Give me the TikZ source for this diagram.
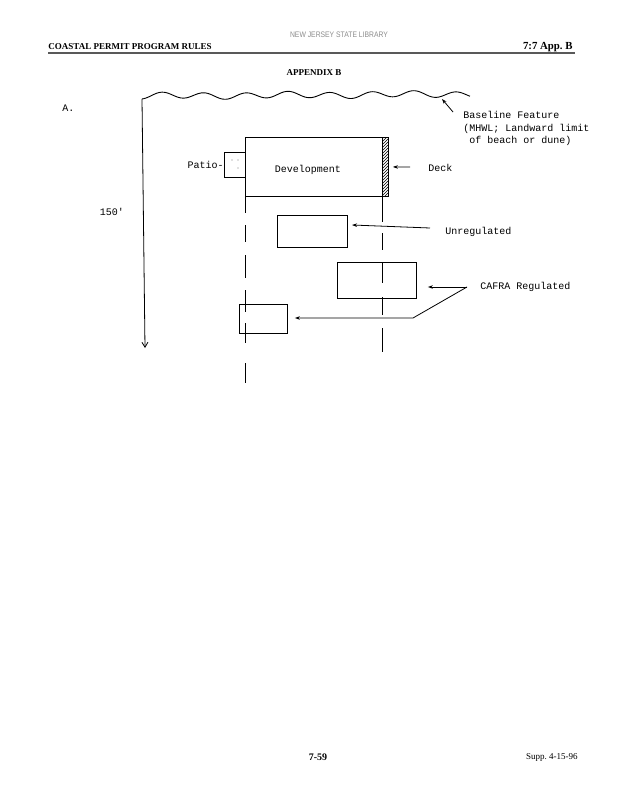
\documentclass[tikz,border=0pt]{standalone}
\usepackage{fontspec}
\setmainfont{Liberation Serif}
\newfontfamily\twfont{Liberation Mono}
\newfontfamily\stampfont{Liberation Sans}
\usetikzlibrary{arrows.meta,patterns}
\begin{document}
\begin{tikzpicture}[x=1pt,y=-1pt,
  line width=0.9pt,
  tw/.style={font=\twfont\fontsize{10}{12.5}\selectfont, inner sep=0pt},
  box/.style={draw, line width=0.9pt, inner sep=0pt, anchor=north west},
  arr/.style={-{Stealth[length=5pt,width=3.5pt]}, line width=0.8pt},
  guide/.style={line width=0.9pt}]
\useasboundingbox[fill=white] (0,0) rectangle (621,800);

% header
\node[anchor=base west, inner sep=0pt, font=\bfseries\fontsize{9}{10}\selectfont] (hl) at (48,49) {COASTAL PERMIT PROGRAM RULES};
\node[anchor=base east, inner sep=0pt, font=\bfseries\fontsize{10.8}{12}\selectfont] (hr) at (573,49) {7:7 App.~B};
\draw[black!65, line width=1.2pt] (48,53) -- (575,53);
\node[inner sep=0pt, text=black!45, font=\stampfont\fontsize{8}{9}\selectfont] (stamp) at (339,35) {\scalebox{0.85}[1]{NEW JERSEY STATE LIBRARY}};
\node[inner sep=0pt, font=\bfseries\fontsize{9}{10}\selectfont] (app) at (314,73) {APPENDIX B};

\node[tw, anchor=west] (A) at (62,108) {A.};

% baseline wave
\coordinate (wstart) at (142,99);
\draw plot[domain=142:470, samples=200, smooth] (\x, {96 - 0.006*(\x-142) - 3*cos(8.57*(\x-162)) - 0.8*sin(3.1*(\x-142))});
% 150' arrow
\coordinate (vend) at (145,348);
\draw[-{Straight Barb[length=5pt,width=6pt]}, line width=0.8pt] (wstart) -- (vend);
\node[tw] (d150) at (112,212) {150'};

% baseline feature label
\coordinate (btip) at (442,99);
\coordinate (btail) at (453,112);
\draw[arr] (btail) -- (btip);
\node[tw, anchor=north west, align=left] (bl) at (463,111) {Baseline Feature\\(MHWL; Landward limit\\\hspace*{6pt}of beach or dune)};

% development
\node[box, minimum width=137, minimum height=59] (dev) at (245,137) {};
\node[box, pattern=north east lines, minimum width=6, minimum height=59] (deck) at (382,137) {};
\node[tw] (devl) at (308,170) {Development};
\node[box, minimum width=21, minimum height=25] (patio) at (224,152) {};
\node[tw, anchor=east] (patiol) at (patio.west) {Patio-};
\fill[black!50] (232,160) circle (0.6) (238,160) circle (0.6) (238,168) circle (0.6);

% deck label
\coordinate (deckfrom) at (410,167);
\draw[arr] (deckfrom) -- ([xshift=4pt]deck.east);
\node[tw, anchor=west] (deckl) at (428,168) {Deck};

% setback guide lines
\draw[guide] (245,196) -- (245,213) (245,225) -- (245,242) (245,255) -- (245,278)
  (245,290) -- (245,312) (245,323) -- (245,343) (245,363) -- (245,383);
\draw[guide] (382,196) -- (382,222) (382,233) -- (382,250) (382,263) -- (382,283)
  (382,297) -- (382,315) (382,328) -- (382,352);

% unregulated
\node[box, minimum width=70, minimum height=32] (unreg) at (277,215) {};
\node[tw, anchor=west] (unregl) at (445,232) {Unregulated};
\coordinate (ua) at (430,228);
\draw[arr] (ua) -- (352,225);

% CAFRA regulated
\node[box, minimum width=79, minimum height=36] (c1) at (337,262) {};
\node[box, minimum width=48, minimum height=29] (c2) at (239,304) {};
\node[tw, anchor=west] (cafl) at (480,287) {CAFRA Regulated};
\coordinate (cj) at (467,287);
\coordinate (cb) at (413,318);
\draw[arr, shorten >=11pt] (cj) -- (c1.east |- cj);
\draw[arr, shorten >=7pt] (cj) -- (cb) -- (c2.east |- cb);

% footer
\node[inner sep=0pt, font=\bfseries\fontsize{10}{12}\selectfont] (pg) at (318,757) {7-59};
\node[inner sep=0pt, anchor=east, font=\fontsize{9}{11}\selectfont] (supp) at (578,757) {Supp.~4-15-96};
\end{tikzpicture}
\end{document}
